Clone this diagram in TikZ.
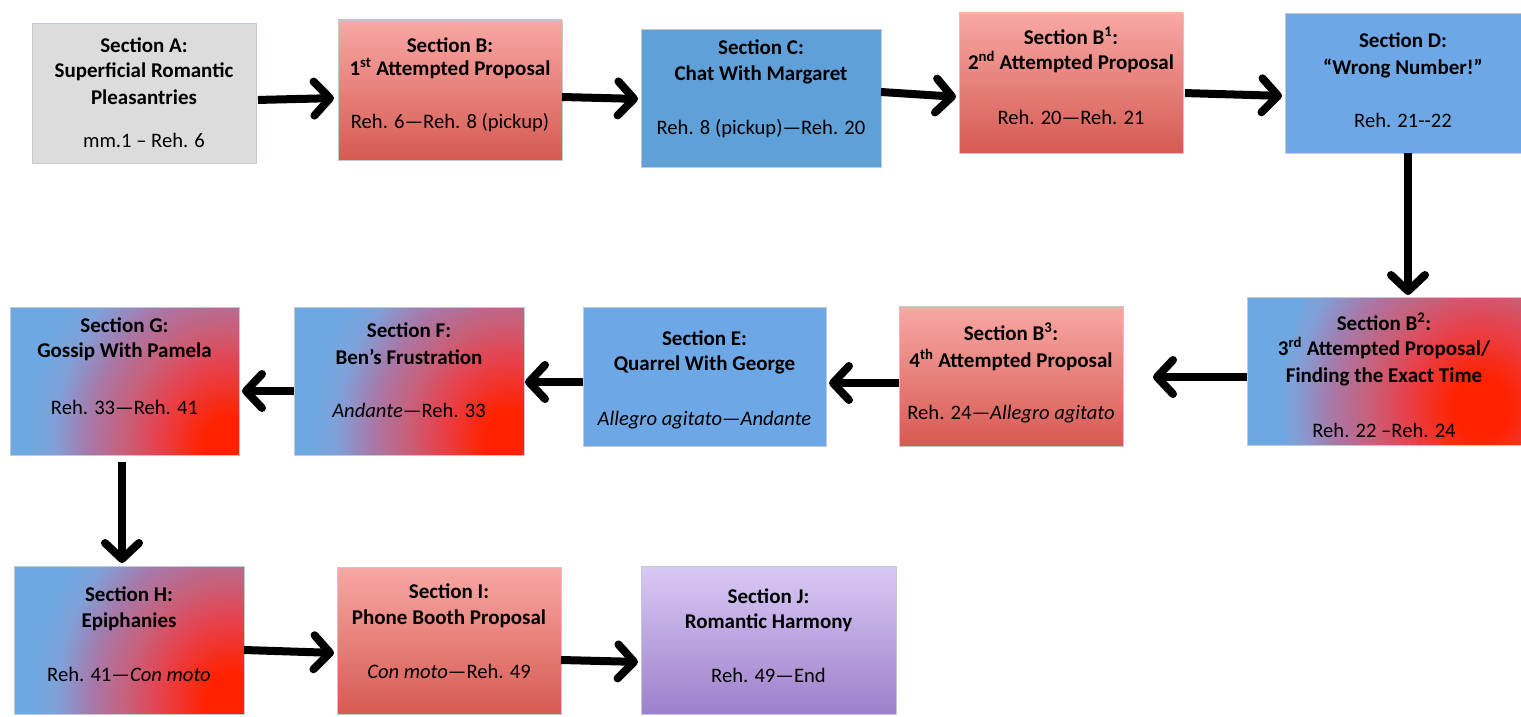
\documentclass[tikz,border=0pt]{standalone}
\usepackage{fontspec}
\setmainfont{Carlito}
\usetikzlibrary{arrows.meta}
\definecolor{grayfill}{HTML}{DCDCDC}
\definecolor{boxline}{HTML}{C4CAD2}
\definecolor{redtop}{HTML}{F8A8A4}
\definecolor{redbot}{HTML}{D65A52}
\definecolor{blueC}{HTML}{5FA0D9}
\definecolor{blueD}{HTML}{6EA7E5}
\definecolor{purtop}{HTML}{D9C9F5}
\definecolor{purbot}{HTML}{9E80CB}
\definecolor{rc}{HTML}{FF2200}
\definecolor{rc2}{HTML}{E8404A}
\definecolor{mc}{HTML}{C8607A}
\definecolor{mc2}{HTML}{A878A8}
\definecolor{bc2}{HTML}{80A0D8}
\definecolor{bc}{HTML}{6EA8E2}
\pgfdeclareradialshading{bluered}{\pgfpoint{0bp}{0bp}}{color(0bp)=(rc);color(3bp)=(rc);color(8bp)=(rc2);color(12bp)=(mc);color(16bp)=(mc2);color(20bp)=(bc2);color(23bp)=(bc);color(50bp)=(bc)}
\begin{document}
\begin{tikzpicture}[x=1pt,y=-1pt,
  box/.style={draw=boxline,line width=0.8pt,inner sep=0pt,outer sep=0pt},
  graybox/.style={box,fill=grayfill},
  redbox/.style={box,top color=redtop,bottom color=redbot},
  bluebox/.style={box,fill=blueC},
  blueboxD/.style={box,fill=blueD},
  purbox/.style={box,top color=purtop,bottom color=purbot},
  mixbox/.style={box,fill=bc,path picture={
     \shade[shading=bluered] ([shift={(#1)}]path picture bounding box.south east) ellipse (215pt and 250pt);}},
  tb/.style={font=\fontsize{21}{25}\selectfont\bfseries,inner sep=0pt,text height=19pt,text depth=4pt},
  tr/.style={font=\fontsize{20.6}{25}\selectfont,inner sep=0pt,text height=19pt,text depth=4pt},
  conn/.style={line width=8pt,-{Straight Barb[length=16pt,width=34pt,line cap=round,line join=round]}}
]
\useasboundingbox (0,0) rectangle (1521,717);
\fill[white] (0,0) rectangle (1521,717);

% boxes
\node[graybox,minimum width=224pt,minimum height=140pt] (A) at (144,93) {};
\node[redbox,minimum width=224pt,minimum height=140pt] (B) at (450,90) {};
\node[bluebox,minimum width=240pt,minimum height=138pt] (C) at (761,98) {};
\node[redbox,minimum width=224pt,minimum height=140pt] (B1) at (1071,83) {};
\node[blueboxD,minimum width=236pt,minimum height=140pt] (D) at (1403,83) {};
\node[mixbox={-21pt,38pt},minimum width=274pt,minimum height=148pt] (B2) at (1384,371) {};
\node[redbox,minimum width=224pt,minimum height=140pt] (B3) at (1011,376) {};
\node[blueboxD,minimum width=243pt,minimum height=139pt] (E) at (704.5,376.5) {};
\node[mixbox={-12pt,15pt},minimum width=230pt,minimum height=148pt] (F) at (409,381) {};
\node[mixbox={-6pt,8pt},minimum width=229pt,minimum height=148pt] (G) at (124.5,381) {};
\node[mixbox={-10pt,12pt},minimum width=230pt,minimum height=148pt] (H) at (129,640) {};
\node[redbox,minimum width=224pt,minimum height=147pt] (I) at (449,640.5) {};
\node[purbox,minimum width=255pt,minimum height=148pt] (J) at (768.5,640) {};

% texts
\node[tb] (A1) at (144,45) {Section A:};
\node[tb] (A2) at (144,70) {Superficial Romantic};
\node[tb] (A3) at (144,97) {Pleasantries};
\node[tr] (Ar) at (144,140) {mm.1 – Reh. 6};

\node[tb] (Bt1) at (450,45) {Section B:};
\node[tb] (Bt2) at (450,68) {1\textsuperscript{st} Attempted Proposal};
\node[tr] (Br) at (450,121) {Reh. 6—Reh. 8 (pickup)};

\node[tb] (C1) at (761,47) {Section C:};
\node[tb] (C2) at (761,73) {Chat With Margaret};
\node[tr] (Cr) at (761,127) {Reh. 8 (pickup)—Reh. 20};

\node[tb] (B11) at (1071,37) {Section B\textsuperscript{1}:};
\node[tb] (B12) at (1071,62) {2\textsuperscript{nd} Attempted Proposal};
\node[tr] (B1r) at (1071,117) {Reh. 20—Reh. 21};

\node[tb] (D1) at (1403,40) {Section D:};
\node[tb] (D2) at (1403,67) {“Wrong Number!”};
\node[tr] (Dr) at (1403,120) {Reh. 21-{}-22};

\node[tb] (B21) at (1384,323) {Section B\textsuperscript{2}:};
\node[tb] (B22) at (1384,348) {3\textsuperscript{rd} Attempted Proposal/};
\node[tb] (B23) at (1384,375) {Finding the Exact Time};
\node[tr] (B2r) at (1384,430) {Reh. 22 –Reh. 24};

\node[tb] (B31) at (1011,333) {Section B\textsuperscript{3}:};
\node[tb] (B32) at (1011,360) {4\textsuperscript{th} Attempted Proposal};
\node[tr] (B3r) at (1011,412) {Reh. 24—\textit{Allegro agitato}};

\node[tb] (E1) at (704.5,338) {Section E:};
\node[tb] (E2) at (704.5,363) {Quarrel With George};
\node[tr] (Er) at (704.5,418) {\textit{Allegro agitato—Andante}};

\node[tb] (F1) at (409,330) {Section F:};
\node[tb] (F2) at (409,357) {Ben’s Frustration};
\node[tr] (Fr) at (409,410) {\textit{Andante}—Reh. 33};

\node[tb] (G1) at (124.5,325) {Section G:};
\node[tb] (G2) at (124.5,350) {Gossip With Pamela};
\node[tr] (Gr) at (124.5,407) {Reh. 33—Reh. 41};

\node[tb] (H1) at (129,594) {Section H:};
\node[tb] (H2) at (129,620) {Epiphanies};
\node[tr] (Hr) at (129,674) {Reh. 41—\textit{Con moto}};

\node[tb] (I1) at (449,591) {Section I:};
\node[tb] (I2) at (449,617) {Phone Booth Proposal};
\node[tr] (Ir) at (449,671) {\textit{Con moto}—Reh. 49};

\node[tb] (J1) at (768.5,596) {Section J:};
\node[tb] (J2) at (768.5,621) {Romantic Harmony};
\node[tr] (Jr) at (768.5,675) {Reh. 49—End};

% connectors
\draw[conn,shorten <=2pt,shorten >=4pt] ([yshift=-7pt]A.east) -- ([yshift=-8pt]B.west);
\draw[conn,shorten >=3pt] ([yshift=-7pt]B.east) -- ([yshift=-1pt]C.west);
\draw[conn,shorten >=3pt] ([yshift=6pt]C.east) -- ([yshift=-14pt]B1.west);
\draw[conn,shorten <=2pt,shorten >=3pt] ([yshift=-10pt]B1.east) -- ([yshift=-13pt]D.west);
\draw[conn,shorten >=2pt] ([xshift=5pt]D.south) -- ([xshift=5pt]D.south |- B2.north);
\draw[conn,shorten >=30pt] ([yshift=-6pt]B2.west) -- ([yshift=-6pt]B2.west -| B3.east);
\draw[conn,shorten >=3pt] ([yshift=-7pt]B3.west) -- ([yshift=-7pt]B3.west -| E.east);
\draw[conn,shorten >=1pt] ([yshift=-5.5pt]E.west) -- ([yshift=-5.5pt]E.west -| F.east);
\draw[conn,shorten >=3pt] ([yshift=-10pt]F.west) -- ([yshift=-10pt]G.east);
\draw[conn,shorten <=7pt,shorten >=3pt] ([xshift=-2.5pt]G.south) -- ([xshift=-2.5pt]G.south |- H.north);
\draw[conn,shorten >=3pt] ([yshift=-10pt]H.east) -- ([yshift=-12.5pt]I.west);
\draw[conn,shorten >=3pt] ([yshift=-19.5pt]I.east) -- ([yshift=-22pt]J.west);
\end{tikzpicture}
\end{document}
